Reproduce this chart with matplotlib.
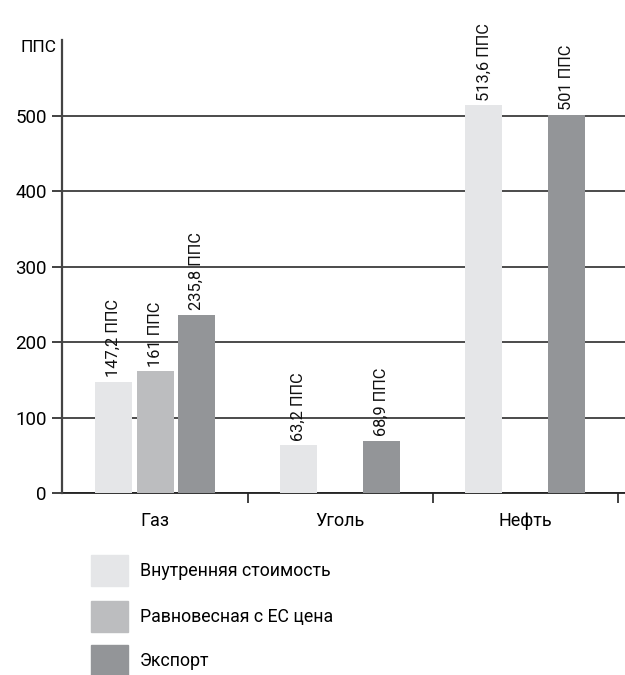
import matplotlib
matplotlib.use('Agg')
import matplotlib.pyplot as plt
import numpy as np

# данные
categories = ['Газ', 'Уголь', 'Нефть']
series_names = ['Внутренняя стоимость', 'Равновесная с ЕС цена', 'Экспорт']
domestic = [147.2, 63.2, 513.6]
eu_price = [161, None, None]
export = [235.8, 68.9, 501]
labels_domestic = ['147,2 ППС', '63,2 ППС', '513,6 ППС']
labels_eu = ['161 ППС', None, None]
labels_export = ['235,8 ППС', '68,9 ППС', '501 ППС']
colors = ['#e5e6e8', '#bcbdbf', '#939598']

plt.rcParams['font.family'] = ['Roboto', 'DejaVu Sans']

fig = plt.figure(figsize=(6.25, 6.75), dpi=100)
ax = fig.add_axes([0.0992, 0.2696, 0.9008, 0.6711])

x = np.arange(len(categories))
w = 0.2
offsets = [-0.223, 0.0, 0.223]
all_vals = [domestic, eu_price, export]
all_labels = [labels_domestic, labels_eu, labels_export]

for s, (vals, labs) in enumerate(zip(all_vals, all_labels)):
    for i, v in enumerate(vals):
        if v is None:
            continue
        xi = x[i] + offsets[s]
        ax.bar(xi, v, width=w, color=colors[s], zorder=3)
        ax.text(xi, v + 6, labs[i], rotation=90, ha='center', va='bottom',
                fontsize=11.8, color='#111111', zorder=4)

ax.set_xlim(-0.503, 2.54)
ax.set_ylim(0, 600)
ax.set_yticks([0, 100, 200, 300, 400, 500])
ax.yaxis.grid(True, color='#1a1a1a', linewidth=1.1, zorder=1)
ax.set_axisbelow(True)

ax.set_xticks([0.5, 1.5, 2.5])
ax.set_xticklabels([])
ax.set_xticks(x, minor=True)
ax.set_xticklabels(categories, minor=True, fontsize=13)
ax.tick_params(axis='x', which='minor', length=0, pad=14)
ax.tick_params(axis='x', which='major', length=7, width=1.3, color='#333333', direction='out')
ax.tick_params(axis='y', length=7, width=1.3, color='#333333', labelsize=13.5, pad=4)

for side in ['top', 'right']:
    ax.spines[side].set_visible(False)
ax.spines['left'].set_color('#444444')
ax.spines['left'].set_linewidth(1.6)
ax.spines['bottom'].set_color('#222222')
ax.spines['bottom'].set_linewidth(1.3)
ax.spines['left'].set_zorder(5)

fig.text(0.032, 1 - 47 / 675, 'ППС', fontsize=12.5, ha='left', va='center')

# легенда
leg_y = [571, 617, 661]
for name, c, yy in zip(series_names, colors, leg_y):
    fig.patches.append(plt.Rectangle((91 / 625, 1 - (yy + 15) / 675), 37 / 625, 31 / 675,
                                     transform=fig.transFigure, color=c, figure=fig))
    fig.text(140 / 625, 1 - yy / 675, name, fontsize=12.8, ha='left', va='center')

fig.savefig('out.png', dpi=100)
